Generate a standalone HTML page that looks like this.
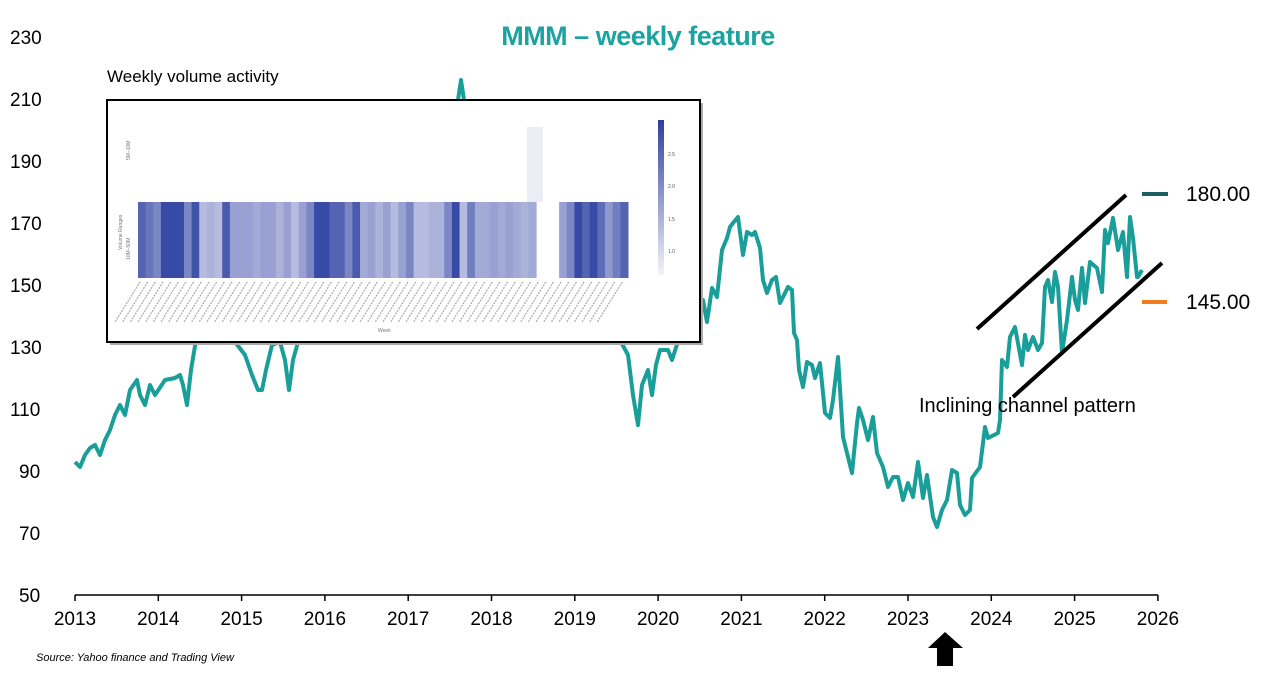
<!DOCTYPE html>
<html><head><meta charset="utf-8"><style>
body{margin:0;background:#fff;width:1267px;height:681px;overflow:hidden;font-family:"Liberation Sans",sans-serif}
</style></head><body>
<svg width="1267" height="681" viewBox="0 0 1267 681" xmlns="http://www.w3.org/2000/svg" font-family="Liberation Sans, sans-serif">
<text x="638" y="45" text-anchor="middle" font-size="27" font-weight="bold" fill="#1aa3a0" letter-spacing="-0.5">MMM – weekly feature</text>
<g font-size="19" fill="#000">
<text x="10" y="44">230</text><text x="10" y="106">210</text><text x="10" y="168">190</text><text x="10" y="230">170</text><text x="10" y="292">150</text><text x="10" y="354">130</text><text x="10" y="416">110</text><text x="19" y="478">90</text><text x="19" y="540">70</text><text x="19" y="602">50</text>
</g>
<line x1="75" y1="595" x2="1158" y2="595" stroke="#000" stroke-width="1.5"/>
<g stroke="#000" stroke-width="1.5" id="ticks"></g>
<g font-size="19" fill="#000" text-anchor="middle" id="xl"></g>
<polyline id="price" fill="none" stroke="#1a9e9a" stroke-width="4" stroke-linejoin="round" points="75,462 80,467 85,455 90,448 95,445 100,455 105,440 110,430 115,415 120,405 125,415 130,390 137,380 140,395 145,405 150,385 155,395 165,380 175,378 180,375 183,385 187,405 191,370 196,340 205,300 220,260 235,342 245,355 252,375 258,390 262,390 266,370 272,345 280,342 285,360 289,390 293,360 300,335 320,280 345,250 380,230 420,200 450,170 458,100 461,80 464,100 480,200 520,260 560,300 600,330 620,340 628,355 633,395 638,425 642,385 648,370 652,395 656,365 660,350 668,350 672,360 680,335 690,305 700,313 703,300 707,322 712,288 717,297 722,250 727,238 730,227 733,223 738,217 743,255 747,232 752,235 755,232 760,248 763,280 767,293 772,280 776,277 780,303 788,287 792,290 794,333 797,340 799,370 803,387 807,362 812,365 815,378 820,363 825,413 830,418 833,400 838,357 843,437 852,473 857,423 859,408 863,420 868,440 873,417 877,453 883,467 888,487 893,477 898,477 903,500 908,483 913,497 918,462 923,498 927,475 933,517 937,527 942,510 947,500 952,470 957,473 960,505 965,515 970,510 972,478 980,467 985,427 988,438 998,433 1000,420 1002,360 1007,367 1010,337 1015,327 1022,365 1025,335 1028,350 1033,337 1038,350 1042,343 1045,287 1048,280 1052,302 1055,272 1058,287 1062,353 1067,320 1072,277 1075,300 1078,310 1082,268 1085,303 1090,262 1097,268 1102,292 1105,230 1108,243 1113,218 1118,250 1123,232 1127,277 1130,217 1133,238 1137,277 1138,277 1142,270"/>
<line x1="977" y1="329" x2="1126" y2="195" stroke="#000" stroke-width="4"/>
<line x1="1013" y1="397" x2="1162" y2="263" stroke="#000" stroke-width="4"/>
<text x="919" y="412" font-size="20" fill="#000">Inclining channel pattern</text>
<line x1="1168" y1="194" x2="1194" y2="194" stroke="#1d5e5e" stroke-width="4" transform="translate(-26,0)"/>
<text x="1186" y="201" font-size="21" fill="#000">180.00</text>
<line x1="1142" y1="302" x2="1167" y2="302" stroke="#f47c20" stroke-width="4"/>
<text x="1186" y="309" font-size="21" fill="#000">145.00</text>
<text x="107" y="82" font-size="17" fill="#000">Weekly volume activity</text>
<rect x="110" y="103" width="593" height="242" fill="#aaa"/>
<rect x="107" y="100" width="593" height="242" fill="#fff" stroke="#000" stroke-width="2"/>
<rect x="527" y="127" width="16" height="75" fill="#ededf5"/>
<g id="heat"></g>
<defs><linearGradient id="cb" x1="0" y1="1" x2="0" y2="0"><stop offset="0" stop-color="#f3f3fa"/><stop offset="1" stop-color="#2e3f9e"/></linearGradient></defs>
<rect x="658" y="120" width="6" height="155" fill="url(#cb)"/>
<g font-size="5" fill="#555"><text x="668" y="156">2.5</text><text x="668" y="188">2.0</text><text x="668" y="221">1.5</text><text x="668" y="253">1.0</text></g>
<text x="130" y="160" font-size="5" fill="#777" transform="rotate(-90 130 160)">5M–10M</text>
<text x="122" y="250" font-size="5" fill="#777" transform="rotate(-90 122 250)">Volume Ranges</text>
<text x="130" y="260" font-size="5" fill="#777" transform="rotate(-90 130 260)">10M–50M</text>
<text x="378" y="332" font-size="5" fill="#777">Week</text>
<g id="xlab" fill="#999"></g>
<text x="36" y="661" font-size="11" font-style="italic" fill="#000">Source: Yahoo finance and Trading View</text>
<polygon points="945,632 963,648 953,648 953,666 937,666 937,648 928,648" fill="#000"/>
</svg>
<script>
var ns="http://www.w3.org/2000/svg";
function el(t,a,p){var e=document.createElementNS(ns,t);for(var k in a)e.setAttribute(k,a[k]);p.appendChild(e);return e;}
var tk=document.getElementById('ticks'),xl=document.getElementById('xl');
for(var i=0;i<=13;i++){var x=75+i*83.3;el('line',{x1:x,y1:595,x2:x,y2:601},tk);var t=el('text',{x:x,y:625},xl);t.textContent=2013+i;}
var vals=[.8,.7,.6,.95,.95,.95,.6,.9,.3,.35,.3,.85,.45,.45,.45,.4,.45,.45,.35,.45,.3,.45,.6,.95,.95,.8,.8,.6,.85,.4,.45,.35,.45,.3,.45,.6,.3,.3,.35,.35,.6,.95,.3,.65,.4,.4,.45,.4,.45,.4,.35,.4,-1,-1,-1,.45,.6,.95,.8,.95,.75,.5,.65,.8];
var h=document.getElementById('heat'),n=vals.length,w=(628-138)/n;
for(var i=0;i<n;i++){if(vals[i]<0)continue;var v=vals[i];
var r=Math.round(240-v*195),g=Math.round(240-v*175),b=Math.round(250-v*90);
el('rect',{x:138+i*w,y:202,width:w+0.5,height:76,fill:'rgb('+r+','+g+','+b+')'},h);}
var xlab=document.getElementById('xlab');
for(var i=0;i<n;i++){var x=140+i*w;el('line',{x1:x,y1:282,x2:x-25,y2:322,stroke:'#aaa','stroke-width':1.2,'stroke-dasharray':'2,1'},xlab);}
</script>
</body></html>
